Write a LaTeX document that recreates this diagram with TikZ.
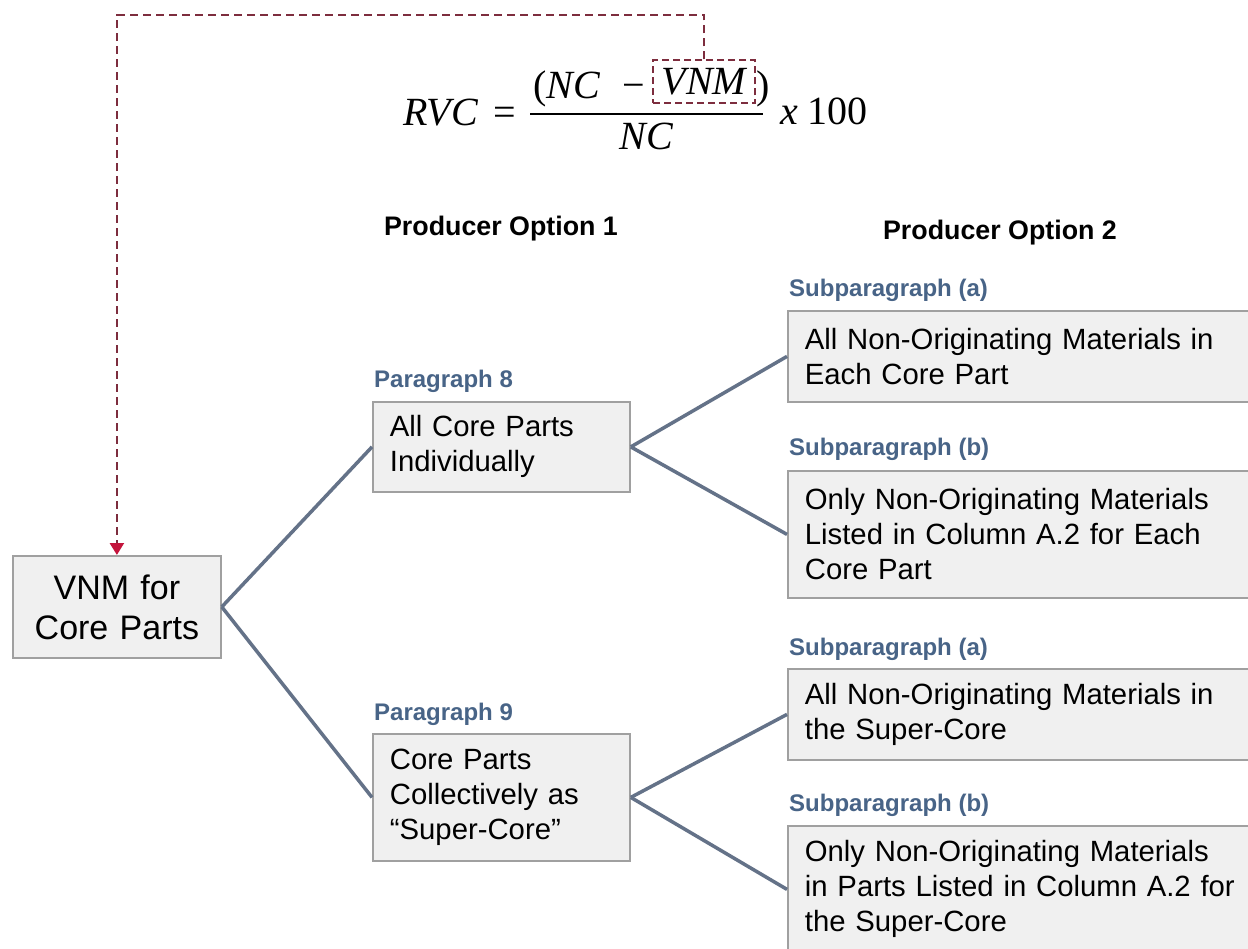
\documentclass[tikz,border=0pt]{standalone}
\usepackage{fontspec}
\setmainfont{Liberation Sans}
\newfontfamily\eqfont{Liberation Serif}
\usetikzlibrary{arrows.meta}

\definecolor{boxfill}{RGB}{240,240,240}
\definecolor{boxline}{RGB}{160,160,160}
\definecolor{linkgray}{RGB}{100,114,136}
\definecolor{headblue}{RGB}{72,100,135}
\definecolor{dashred}{RGB}{125,45,62}
\definecolor{tipred}{RGB}{196,20,60}

\tikzset{
  eqtext/.style={inner sep=0pt, font=\eqfont\fontsize{40}{46}\selectfont},
  vnmbox/.style={draw=dashred, line width=2pt, dash pattern=on 7pt off 4pt,
    inner sep=0pt, minimum width=102pt, minimum height=43pt,
    font=\eqfont\itshape\fontsize{40}{46}\selectfont},
  fracbar/.style={line width=2.6pt, black},
  box/.style={draw=boxline, fill=boxfill, line width=1.8pt, anchor=north west,
    inner xsep=17pt, inner ysep=0pt, align=left,
    font=\fontsize{29.3}{35}\selectfont},
  corebox/.style={draw=boxline, fill=boxfill, line width=1.8pt, anchor=north west,
    inner xsep=6pt, inner ysep=0pt, align=center,
    minimum width=208pt, minimum height=102pt, text width=196pt,
    font=\fontsize{34}{40}\selectfont},
  parbox/.style={box, minimum width=257pt, text width=223pt},
  subbox/.style={box, minimum width=470pt, text width=436pt},
  head/.style={anchor=base west, inner sep=0pt, text=headblue,
    font=\fontsize{24}{28}\selectfont\bfseries},
  option/.style={anchor=base, inner sep=0pt,
    font=\fontsize{26.8}{30}\selectfont\bfseries},
  link/.style={draw=linkgray, line width=3.5pt},
  dashlink/.style={draw=dashred, line width=2.5pt, dash pattern=on 8pt off 5pt,
    -{Triangle[length=12pt,width=14pt,color=tipred,fill=tipred]}},
}

\begin{document}
\begin{tikzpicture}[x=1pt,y=-1pt]
\clip (0,0) rectangle (1248,949);
\fill[white] (0,0) rectangle (1248,949);

% formula RVC = (NC - VNM)/NC x 100
\node[eqtext, anchor=base west] (rvc) at (403,126) {\itshape RVC};
\node[eqtext, anchor=base] (eq) at (505,126) {=};
\node[eqtext, anchor=base west] (numl) at (533,99) {(\itshape NC};
\node[eqtext, anchor=base] (minus) at (634,99) {−};
\node[vnmbox] (vnm) at (704,82) {VNM};
\node[eqtext, anchor=base west] (rpar) at (756,99) {)};
\draw[fracbar] (530,114) -- (763,114);
\node[eqtext, anchor=base] (den) at (646,150) {\itshape NC};
\node[eqtext, anchor=base west] (times) at (780,125) {\itshape x\upshape\ 100};

% column headings
\node[option] (opt1) at (501,236) {Producer Option 1};
\node[option] (opt2) at (1000,240) {Producer Option 2};

% root
\node[corebox] (core) at (12,555) {VNM for\\Core Parts};

% paragraph boxes
\node[parbox, minimum height=90pt] (p8) at (372,401) {All Core Parts\\Individually};
\node[head] (h8) at (374,388) {Paragraph 8};
\node[parbox, minimum height=127pt] (p9) at (372,733) {Core Parts\\Collectively as\\“Super-Core”};
\node[head] (h9) at (374,720) {Paragraph 9};

% subparagraph boxes
\node[subbox, minimum height=91pt] (s8a) at (787,310) {All Non-Originating Materials in\\Each Core Part};
\node[head] (hs8a) at (789,297) {Subparagraph (a)};
\node[subbox, minimum height=127pt] (s8b) at (787,470) {Only Non-Originating Materials\\Listed in Column A.2 for Each\\Core Part};
\node[head] (hs8b) at (789,456) {Subparagraph (b)};
\node[subbox, minimum height=91pt] (s9a) at (787,668) {All Non-Originating Materials in\\the Super-Core};
\node[head] (hs9a) at (789,655) {Subparagraph (a)};
\node[subbox, minimum height=127pt] (s9b) at (787,825) {Only Non-Originating Materials\\in Parts Listed in Column A.2 for\\the Super-Core};
\node[head] (hs9b) at (789,811) {Subparagraph (b)};

% tree connectors
\draw[link] (core.east) -- (p8.west);
\draw[link] (core.east) -- (p9.west);
\draw[link] (p8.east) -- (s8a.west);
\draw[link] (p8.east) -- (s8b.west);
\draw[link] (p9.east) -- (s9a.west);
\draw[link] (p9.east) -- (s9b.west);

% VNM term feeds the root box
\coordinate (top) at (116,15);
\draw[dashlink] (vnm.north) -- (vnm.north |- top) -| (core.north);
\end{tikzpicture}
\end{document}
